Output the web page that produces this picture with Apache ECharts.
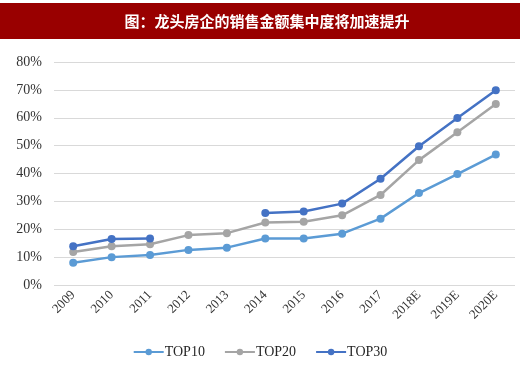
<!DOCTYPE html>
<html><head><meta charset="utf-8">
<script src="https://cdn.jsdelivr.net/npm/echarts@6/dist/echarts.min.js"></script>
<style>html,body{margin:0;padding:0;background:#fff}#c{width:520px;height:373px}</style>
</head><body><div id="c"></div>
<script>
const titleText = '图：龙头房企的销售金额集中度将加速提升';
const categories = ['2009','2010','2011','2012','2013','2014','2015','2016','2017','2018E','2019E','2020E'];
const top10 = [8.0, 10.0, 10.8, 12.6, 13.4, 16.7, 16.7, 18.4, 23.8, 33.0, 39.8, 46.8];
const top20 = [11.8, 13.9, 14.6, 17.9, 18.6, 22.4, 22.7, 25.0, 32.3, 44.8, 54.8, 64.9];
const top30 = [13.9, 16.5, 16.7, null, null, 25.8, 26.4, 29.2, 38.1, 49.8, 59.9, 69.9];
const yTicks = [0,10,20,30,40,50,60,70,80];

const chart = echarts.init(document.getElementById('c'));
const serif = '"Liberation Serif","Times New Roman",serif';
function mk(name, data, color){
  return {name, type:'line', data, connectNulls:false, symbol:'circle', symbolSize:8,
    lineStyle:{width:2.5,color}, itemStyle:{color}};
}
chart.setOption({
  animation:false,
  graphic:[
    {type:'rect', shape:{x:0,y:3,width:520,height:36}, style:{fill:'#990000'}, silent:true},
    {type:'text', x:267, y:21, style:{text:titleText, fill:'#fff', font:'bold 15px "Noto Sans CJK SC"', align:'center', verticalAlign:'middle'}}
  ],
  grid:{left:54, right:5, top:62, bottom:88, containLabel:false},
  legend:{bottom:9, left:'center', itemWidth:30, itemHeight:8, itemGap:19,
    textStyle:{fontFamily:serif, fontSize:14, color:'#262626', padding:[0,0,0,-4]},
    data:['TOP10','TOP20','TOP30']},
  xAxis:{type:'category', data:categories, boundaryGap:true,
    axisLine:{show:false}, axisTick:{show:false},
    axisLabel:{rotate:45, interval:0, fontFamily:serif, fontSize:13, color:'#333', margin:8}},
  yAxis:{type:'value', min:0, max:80, interval:10,
    axisLine:{show:false}, axisTick:{show:false},
    splitLine:{lineStyle:{color:'#d9d9d9', width:1}},
    axisLabel:{formatter: v => v + '%', fontFamily:serif, fontSize:14, color:'#333', margin:12}},
  series:[mk('TOP10', top10, '#5b9bd5'), mk('TOP20', top20, '#a5a5a5'), mk('TOP30', top30, '#4472c4')]
});
</script></body></html>
